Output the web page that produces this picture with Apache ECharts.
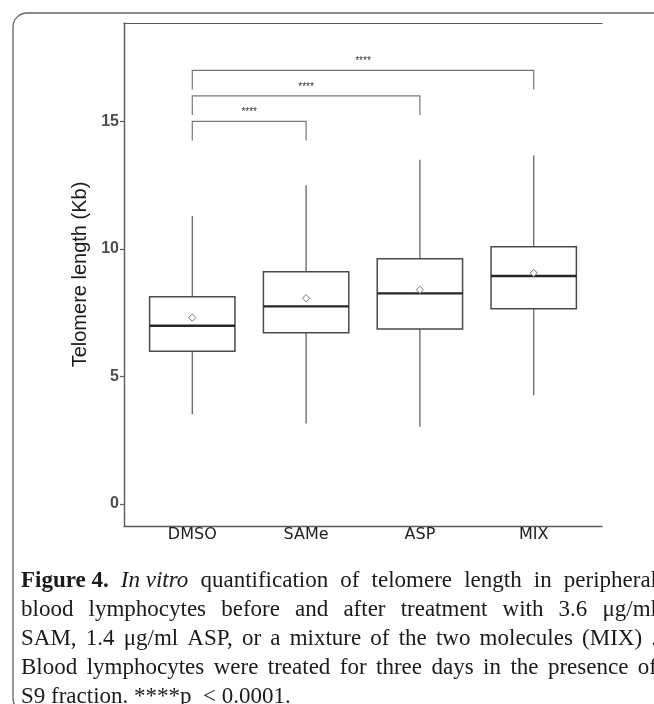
<!DOCTYPE html>
<html>
<head>
<meta charset="utf-8">
<script src="https://cdn.jsdelivr.net/npm/echarts@6/dist/echarts.min.js"></script>
<style>
  html, body { margin: 0; padding: 0; background: #ffffff; }
  #chart { width: 654px; height: 704px; }
</style>
</head>
<body>
<div id="chart"></div>
<script>
// ---------------- data ----------------
const categories   = ['DMSO', 'SAMe', 'ASP', 'MIX'];
const whiskerLow   = [3.52, 3.16, 3.03, 4.27];
const q1           = [5.99, 6.72, 6.86, 7.66];
const median       = [6.99, 7.75, 8.26, 8.94];
const q3           = [8.13, 9.11, 9.62, 10.09];
const whiskerHigh  = [11.29, 12.50, 13.50, 13.67];
const means        = [7.31, 8.07, 8.40, 9.06];
const yTicks       = [0, 5, 10, 15];
const yAxisTitle   = 'Telomere length (Kb)';

const bracketFrom  = ['DMSO', 'DMSO', 'DMSO'];
const bracketTo    = ['SAMe', 'ASP', 'MIX'];
const bracketY     = [15, 16, 17];
const bracketLabel = ['****', '****', '****'];
const bracketTip   = 0.75;

const captionLines = [
  [{t: 'Figure 4.', b: 1}, {t: 'In vitro', i: 1}, {t: 'quantification'}, {t: 'of'}, {t: 'telomere'}, {t: 'length'}, {t: 'in'}, {t: 'peripheral'}],
  [{t: 'blood'}, {t: 'lymphocytes'}, {t: 'before'}, {t: 'and'}, {t: 'after'}, {t: 'treatment'}, {t: 'with'}, {t: '3.6'}, {t: 'μg/ml'}],
  [{t: 'SAM,'}, {t: '1.4'}, {t: 'μg/ml'}, {t: 'ASP,'}, {t: 'or'}, {t: 'a'}, {t: 'mixture'}, {t: 'of'}, {t: 'the'}, {t: 'two'}, {t: 'molecules'}, {t: '(MIX)'}, {t: '.'}],
  [{t: 'Blood'}, {t: 'lymphocytes'}, {t: 'were'}, {t: 'treated'}, {t: 'for'}, {t: 'three'}, {t: 'days'}, {t: 'in'}, {t: 'the'}, {t: 'presence'}, {t: 'of'}],
  [{t: 'S9 fraction. ****p  < 0.0001.'}]
];

// ---------------- build ----------------
const boxData = categories.map((c, i) =>
  [i + 1, whiskerLow[i], q1[i], median[i], q3[i], whiskerHigh[i], means[i]]);
const bracketData = bracketY.map((y, k) =>
  [categories.indexOf(bracketFrom[k]) + 1, categories.indexOf(bracketTo[k]) + 1, y, k]);

const AXIS_COLOR = '#5a5a5a';

function renderBox(params, api) {
  const x = api.value(0);
  const half = api.size([0.75, 0])[0] / 2;
  const pLow = api.coord([x, api.value(1)]);
  const pQ1 = api.coord([x, api.value(2)]);
  const pMed = api.coord([x, api.value(3)]);
  const pQ3 = api.coord([x, api.value(4)]);
  const pHigh = api.coord([x, api.value(5)]);
  const pMean = api.coord([x, api.value(6)]);
  const cx = pQ1[0];
  const d = 3.6;
  return {
    type: 'group',
    children: [
      { type: 'line', shape: { x1: cx, y1: pQ3[1], x2: cx, y2: pHigh[1] },
        style: { stroke: '#666666', lineWidth: 1.3 } },
      { type: 'line', shape: { x1: cx, y1: pQ1[1], x2: cx, y2: pLow[1] },
        style: { stroke: '#666666', lineWidth: 1.3 } },
      { type: 'rect', shape: { x: cx - half, y: pQ3[1], width: 2 * half, height: pQ1[1] - pQ3[1] },
        style: { fill: '#ffffff', stroke: '#4a4a4a', lineWidth: 1.5 } },
      { type: 'line', shape: { x1: cx - half, y1: pMed[1], x2: cx + half, y2: pMed[1] },
        style: { stroke: '#262626', lineWidth: 2.4 } },
      { type: 'polygon', shape: { points: [[cx, pMean[1] - d], [cx + d, pMean[1]], [cx, pMean[1] + d], [cx - d, pMean[1]]] },
        style: { fill: '#ffffff', stroke: '#7a7a7a', lineWidth: 1 } }
    ]
  };
}

function renderBracket(params, api) {
  const x1 = api.value(0), x2 = api.value(1), y = api.value(2);
  const k = api.value(3);
  const a = api.coord([x1, y - bracketTip]);
  const b = api.coord([x1, y]);
  const c = api.coord([x2, y]);
  const e = api.coord([x2, y - bracketTip]);
  return {
    type: 'group',
    children: [
      { type: 'polyline', shape: { points: [a, b, c, e] },
        style: { stroke: '#777777', lineWidth: 1.2, fill: null } },
      { type: 'text', x: (b[0] + c[0]) / 2, y: b[1] - 4,
        style: { text: bracketLabel[k], fontSize: 10, fontFamily: 'Liberation Sans', fill: '#333333',
                 align: 'center', verticalAlign: 'bottom' } }
    ]
  };
}

// ---------------- caption (justified) ----------------
const CAP_FONT = "'Liberation Serif'";
const CAP_SIZE = 23;
const CAP_LEFT = 21;
const CAP_RIGHT = 657;
const CAP_MID = 581;
const CAP_STEP = 29;
const ctx = document.createElement('canvas').getContext('2d');
function fontOf(tok) {
  return (tok.i ? 'italic ' : '') + (tok.b ? 'bold ' : '') + CAP_SIZE + 'px ' + CAP_FONT;
}
const captionGraphics = [];
captionLines.forEach((line, li) => {
  const widths = line.map(tok => { ctx.font = fontOf(tok); return ctx.measureText(tok.t).width; });
  const total = widths.reduce((s, w) => s + w, 0);
  const last = li === captionLines.length - 1;
  const gap = (!last && line.length > 1) ? (CAP_RIGHT - CAP_LEFT - total) / (line.length - 1) : 0;
  let x = CAP_LEFT;
  line.forEach((tok, ti) => {
    captionGraphics.push({
      type: 'text', x: x, y: CAP_MID + li * CAP_STEP, z: 60,
      style: { text: tok.t, font: fontOf(tok), fill: '#1a1a1a', align: 'left', verticalAlign: 'middle' }
    });
    x += widths[ti] + gap;
  });
});

const chart = echarts.init(document.getElementById('chart'), null, { renderer: 'canvas' });
chart.setOption({
  animation: false,
  backgroundColor: '#ffffff',
  grid: { left: 124, right: 52, top: 23, bottom: 178, containLabel: false },
  xAxis: [
    {
      type: 'value', min: 0.4, max: 4.6, position: 'bottom',
      splitLine: { show: false },
      axisLine: { show: true, onZero: false, lineStyle: { color: AXIS_COLOR, width: 1.4 } },
      axisTick: { show: false },
      axisLabel: {
        customValues: [1, 2, 3, 4],
        formatter: v => categories[Math.round(v) - 1] || '',
        fontFamily: 'DejaVu Sans', fontSize: 16, color: '#222222', margin: 1, lineHeight: 16
      }
    },
    {
      type: 'value', min: 0.4, max: 4.6, position: 'top',
      splitLine: { show: false },
      axisLine: { show: true, onZero: false, lineStyle: { color: AXIS_COLOR, width: 1.2 } },
      axisTick: { show: false }, axisLabel: { show: false }
    }
  ],
  yAxis: {
    type: 'value', min: -0.86, max: 18.86,
    name: yAxisTitle, nameLocation: 'middle', nameGap: 32,
    nameTextStyle: { fontFamily: 'Liberation Sans', fontSize: 20, color: '#1a1a1a' },
    splitLine: { show: false },
    axisLine: { show: true, onZero: false, lineStyle: { color: AXIS_COLOR, width: 1.4 } },
    axisTick: { show: true, length: 4, customValues: yTicks, lineStyle: { color: AXIS_COLOR, width: 1.2 } },
    axisLabel: {
      customValues: yTicks,
      fontFamily: 'Liberation Sans', fontWeight: 'bold', fontSize: 16, color: '#4d4d4d', margin: 5
    }
  },
  series: [
    { type: 'custom', name: 'box', renderItem: renderBox, data: boxData, encode: { x: 0, y: [1, 5] }, clip: false },
    { type: 'custom', name: 'brackets', renderItem: renderBracket, data: bracketData, encode: { x: [0, 1], y: 2 }, clip: false }
  ],
  graphic: [
    { type: 'rect', z: 50, shape: { x: 14, y: 541, width: 640, height: 163 }, style: { fill: '#ffffff' } },
    { type: 'rect', z: 55, shape: { x: 13, y: 13, width: 700, height: 699, r: 14 },
      style: { fill: null, stroke: '#666666', lineWidth: 1.3 } }
  ].concat(captionGraphics)
});
</script>
</body>
</html>
